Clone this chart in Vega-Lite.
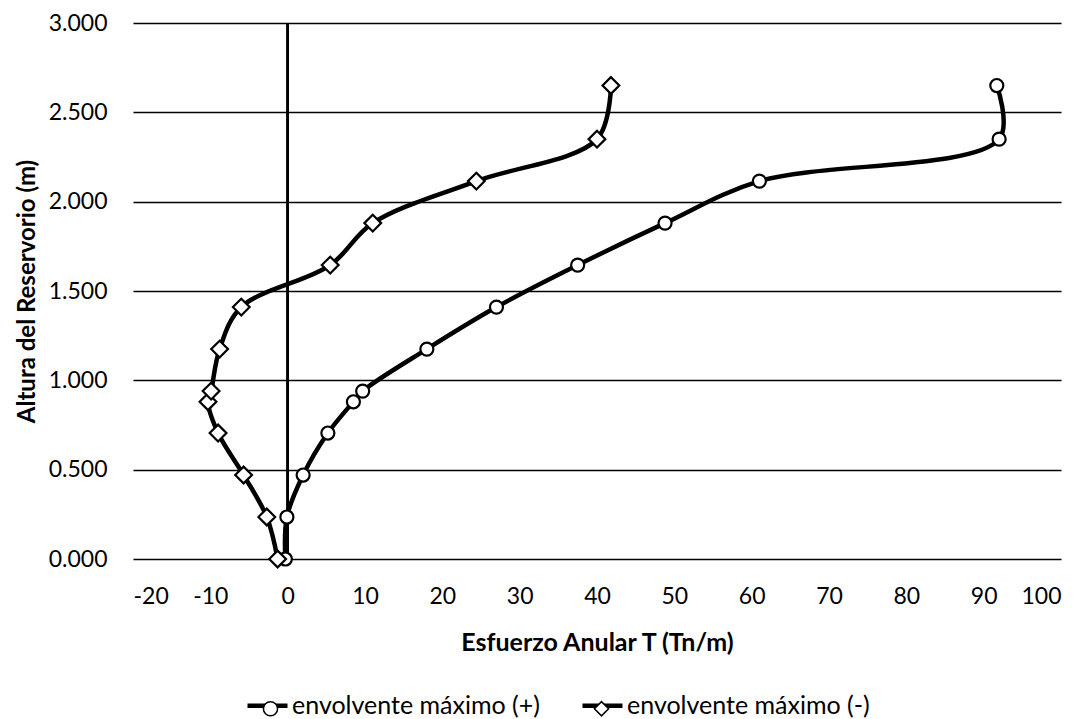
{
  "$schema": "https://vega.github.io/schema/vega-lite/v6.json",
  "width": 928,
  "height": 536,
  "autosize": {"type": "none"},
  "padding": {"left": 133, "top": 23, "right": 30, "bottom": 160},
  "background": "white",
  "config": {"view": {"stroke": null}, "font": "Lato"},
  "data": {"values": [
    {"series": "envolvente máximo (+)", "t": -0.3, "h": 0.0},
    {"series": "envolvente máximo (+)", "t": -0.1, "h": 0.235},
    {"series": "envolvente máximo (+)", "t": 2.0, "h": 0.47},
    {"series": "envolvente máximo (+)", "t": 5.2, "h": 0.705},
    {"series": "envolvente máximo (+)", "t": 8.5, "h": 0.88},
    {"series": "envolvente máximo (+)", "t": 9.7, "h": 0.94},
    {"series": "envolvente máximo (+)", "t": 18.0, "h": 1.175},
    {"series": "envolvente máximo (+)", "t": 27.0, "h": 1.41},
    {"series": "envolvente máximo (+)", "t": 37.5, "h": 1.645},
    {"series": "envolvente máximo (+)", "t": 48.8, "h": 1.88},
    {"series": "envolvente máximo (+)", "t": 61.0, "h": 2.115},
    {"series": "envolvente máximo (+)", "t": 92.0, "h": 2.35},
    {"series": "envolvente máximo (+)", "t": 91.7, "h": 2.65},
    {"series": "envolvente máximo (-)", "t": -1.3, "h": 0.0},
    {"series": "envolvente máximo (-)", "t": -2.7, "h": 0.235},
    {"series": "envolvente máximo (-)", "t": -5.7, "h": 0.47},
    {"series": "envolvente máximo (-)", "t": -9.0, "h": 0.705},
    {"series": "envolvente máximo (-)", "t": -10.3, "h": 0.88},
    {"series": "envolvente máximo (-)", "t": -9.9, "h": 0.94},
    {"series": "envolvente máximo (-)", "t": -8.8, "h": 1.175},
    {"series": "envolvente máximo (-)", "t": -6.0, "h": 1.41},
    {"series": "envolvente máximo (-)", "t": 5.5, "h": 1.645},
    {"series": "envolvente máximo (-)", "t": 11.0, "h": 1.88},
    {"series": "envolvente máximo (-)", "t": 24.4, "h": 2.115},
    {"series": "envolvente máximo (-)", "t": 40.0, "h": 2.35},
    {"series": "envolvente máximo (-)", "t": 41.8, "h": 2.65}
  ]},
  "layer": [
    {
      "mark": {"type": "line", "interpolate": "catmull-rom", "strokeWidth": 4.5},
      "encoding": {
        "x": {
          "field": "t", "type": "quantitative",
          "scale": {"domain": [-20, 100], "nice": false, "zero": false},
          "axis": {
            "title": "Esfuerzo Anular T (Tn/m)",
            "values": [-20, -10, 0, 10, 20, 30, 40, 50, 60, 70, 80, 90, 100],
            "labelExpr": "replace(datum.label, '−', '-')",
            "grid": false, "domain": false, "ticks": false,
            "labelFontSize": 23, "labelPadding": 26, "labelColor": "black",
            "titleFontSize": 25, "titleFontWeight": "bold", "titleColor": "black", "titlePadding": 22
          }
        },
        "y": {
          "field": "h", "type": "quantitative",
          "scale": {"domain": [0, 3], "nice": false},
          "axis": {
            "title": "Altura del Reservorio (m)",
            "values": [0, 0.5, 1, 1.5, 2, 2.5, 3],
            "format": ".3f",
            "grid": true, "gridColor": "black", "gridWidth": 1.3, "gridOpacity": 1,
            "domain": false, "ticks": false,
            "labelFontSize": 23, "labelPadding": 26, "labelColor": "black",
            "titleFontSize": 24, "titleFontWeight": "bold", "titleColor": "black", "titlePadding": 9
          }
        },
        "order": {"field": "h", "type": "quantitative"},
        "stroke": {
          "field": "series", "type": "nominal",
          "scale": {"range": ["black", "black"]},
          "legend": {
            "title": null,
            "orient": "none",
            "direction": "horizontal",
            "legendX": 112,
            "legendY": 660,
            "columnPadding": 33,
            "symbolType": "stroke",
            "symbolSize": 1600,
            "symbolStrokeWidth": 4.5,
            "symbolStrokeColor": "black",
            "symbolOffset": 0,
            "labelOffset": 2,
            "labelFontSize": 25,
            "labelColor": "black",
            "labelLimit": 400
          }
        }
      }
    },
    {
      "mark": {"type": "rule", "color": "black", "strokeWidth": 1.5},
      "encoding": {"x": {"datum": 0, "type": "quantitative"}}
    },
    {
      "transform": [{"filter": "datum.series === 'envolvente máximo (+)'"}],
      "mark": {"type": "point", "filled": true, "fill": "white", "stroke": "black", "strokeWidth": 2.2, "opacity": 1, "size": 170},
      "encoding": {
        "x": {"field": "t", "type": "quantitative"},
        "y": {"field": "h", "type": "quantitative"},
        "shape": {
          "field": "series", "type": "nominal",
          "scale": {"domain": ["envolvente máximo (+)", "envolvente máximo (-)"], "range": ["circle", "diamond"]},
          "legend": {
            "title": null,
            "orient": "none",
            "direction": "horizontal",
            "legendX": 112,
            "legendY": 673,
            "columnPadding": 17,
            "symbolSize": 200,
            "symbolOffset": 13,
            "labelOffset": 28,
            "labelFontSize": 25,
            "labelOpacity": 0,
            "labelLimit": 400,
            "encode": {
              "symbols": {
                "update": {
                  "size": {"value": 200},
                  "fill": {"value": "white"},
                  "stroke": {"value": "black"},
                  "strokeWidth": {"value": 2.5},
                  "opacity": {"value": 1}
                }
              }
            }
          }
        }
      }
    },
    {
      "transform": [{"filter": "datum.series === 'envolvente máximo (-)'"}],
      "mark": {"type": "point", "filled": true, "fill": "white", "stroke": "black", "strokeWidth": 2.2, "opacity": 1, "size": 280},
      "encoding": {
        "x": {"field": "t", "type": "quantitative"},
        "y": {"field": "h", "type": "quantitative"},
        "shape": {"field": "series", "type": "nominal"}
      }
    }
  ]
}
